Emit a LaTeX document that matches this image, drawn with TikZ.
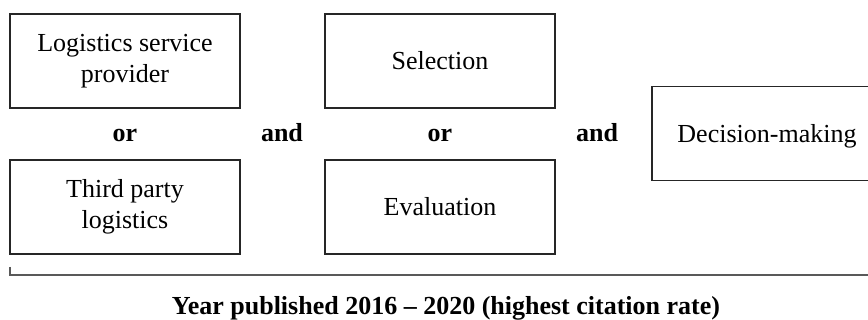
\documentclass[tikz,border=0pt]{standalone}
\usepackage{fontspec}
\setmainfont{Liberation Serif}
\begin{document}
\begin{tikzpicture}[x=1pt,y=-1pt,
  term/.style={draw=black!85, line width=1.2pt, minimum width=230pt,
    minimum height=94pt, inner sep=0pt, align=center,
    font=\fontsize{26}{31}\selectfont},
  op/.style={anchor=base, inner sep=0pt, font=\fontsize{26}{31}\selectfont\bfseries},
  span/.style={draw=black!65, line width=1.2pt}]
\useasboundingbox (0,0) rectangle (868,320);
\clip (0,0) rectangle (868,320);

% search terms
\node[term] (lsp)  at (125,61)  {Logistics service\\provider};
\node[term] (tpl)  at (125,207) {Third party\\logistics};
\node[term] (sel)  at (440,61)  {Selection};
\node[term] (eval) at (440,207) {Evaluation};
\node[term, text depth=0pt] (dm) at (767,133.5) {Decision-making};

% boolean operators
\node[op] (or1)  at (125,142) {or};
\node[op] (and1) at (282,142) {and};
\node[op] (or2)  at (440,142) {or};
\node[op] (and2) at (597,142) {and};

% bracket spanning all terms
\coordinate (bl) at (10,267);
\coordinate (br) at (870,275);
\draw[span] (bl) |- (br);

% caption
\node[op] (cap) at (446,315) {Year published 2016 -- 2020 (highest citation rate)};
\end{tikzpicture}
\end{document}
